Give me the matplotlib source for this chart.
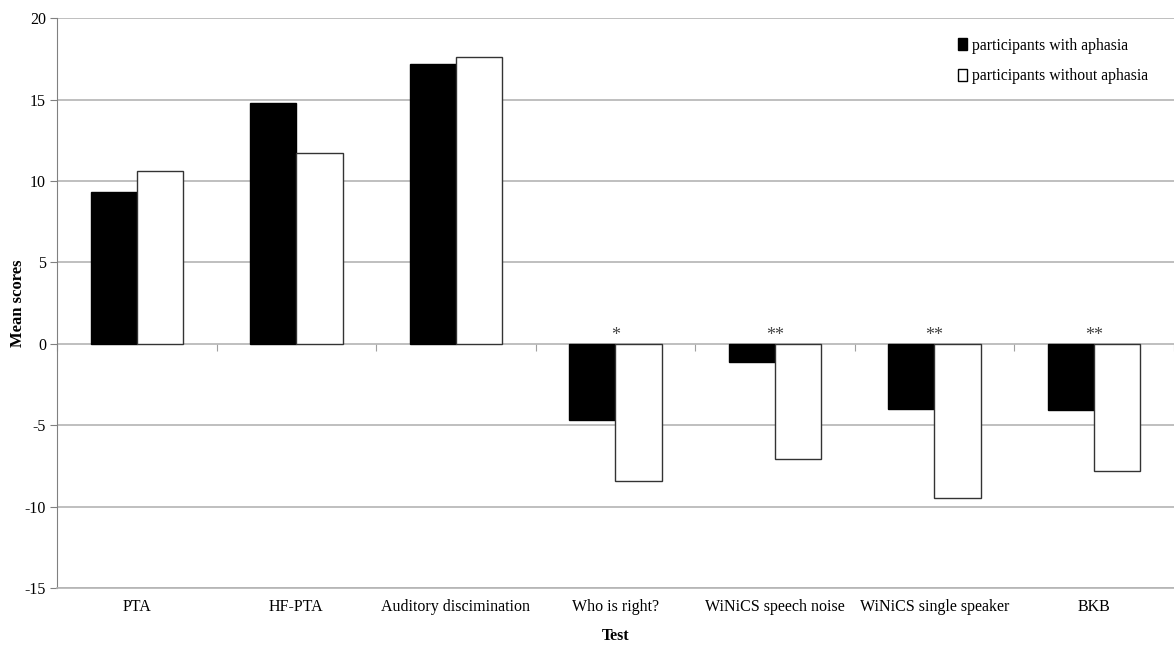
import matplotlib
matplotlib.use("Agg")
import matplotlib.pyplot as plt
from matplotlib.patches import Patch
import numpy as np

plt.rcParams['font.family'] = ['Liberation Serif', 'DejaVu Serif']
plt.rcParams['axes.unicode_minus'] = False

tests = ["PTA", "HF-PTA", "Auditory discimination", "Who is right?",
         "WiNiCS speech noise", "WiNiCS single speaker", "BKB"]
with_aphasia = [9.32, 14.79, 17.15, -4.7, -1.13, -3.98, -4.05]
without_aphasia = [10.59, 11.74, 17.62, -8.4, -7.05, -9.47, -7.79]
signif = ["", "", "", "*", "**", "**", "**"]

fig = plt.figure(figsize=(11.74, 6.45), dpi=100)
ax = fig.add_axes([0.0486, 0.088, 0.951, 0.884])

x = np.arange(len(tests))
w = 0.29
ax.bar(x - w/2, with_aphasia, w, color='black', edgecolor='black', linewidth=1, zorder=3)
ax.bar(x + w/2, without_aphasia, w, color='white', edgecolor='#333333', linewidth=1, zorder=3)

for i, s in enumerate(signif):
    if s:
        ax.annotate(s, (x[i], 0), xytext=(0, 0), textcoords='offset points',
                    ha='center', va='bottom', fontsize=13, color='#444444')

ax.set_xlim(-0.5, len(tests) - 0.5)
ax.set_ylim(-15, 20)
ax.set_yticks(np.arange(-15, 21, 5))
ax.yaxis.grid(True, color='#b4b4b4', linewidth=1.2, zorder=0)
ax.set_axisbelow(True)
ax.tick_params(axis='y', direction='out', length=5, color='#808080', labelsize=11.5, pad=3)
ax.set_xticks(x)
ax.set_xticklabels(tests, fontsize=11.5)
ax.tick_params(axis='x', length=0, pad=8)
for side in ['top', 'right']:
    ax.spines[side].set_visible(False)
ax.spines['left'].set_color('#808080')
ax.spines['bottom'].set_color('#b4b4b4')
ax.spines['bottom'].set_linewidth(1.2)

# category axis crossing at zero with boundary tick marks
sec = ax.secondary_xaxis(15/35)
sec.set_xticks(np.arange(-0.5, len(tests), 1.0))
sec.set_xticklabels([])
sec.tick_params(direction='out', length=5, color='#a0a0a0')
sec.spines['bottom'].set_visible(False)
sec.spines['top'].set_visible(False)

ax.set_xlabel("Test", fontsize=11.5, fontweight='bold', labelpad=9)
ax.set_ylabel("Mean scores", fontsize=12, fontweight='bold')
ax.yaxis.set_label_coords(-0.028, 0.5)

handles = [Patch(facecolor='black', edgecolor='black'),
           Patch(facecolor='white', edgecolor='black')]
ax.legend(handles, ["participants with aphasia", "participants without aphasia"],
          loc='upper right', bbox_to_anchor=(0.99, 0.99), frameon=False, fontsize=11.3,
          handlelength=0.6, handleheight=0.8, handletextpad=0.3, labelspacing=0.9)

fig.savefig("out.png", dpi=100)
